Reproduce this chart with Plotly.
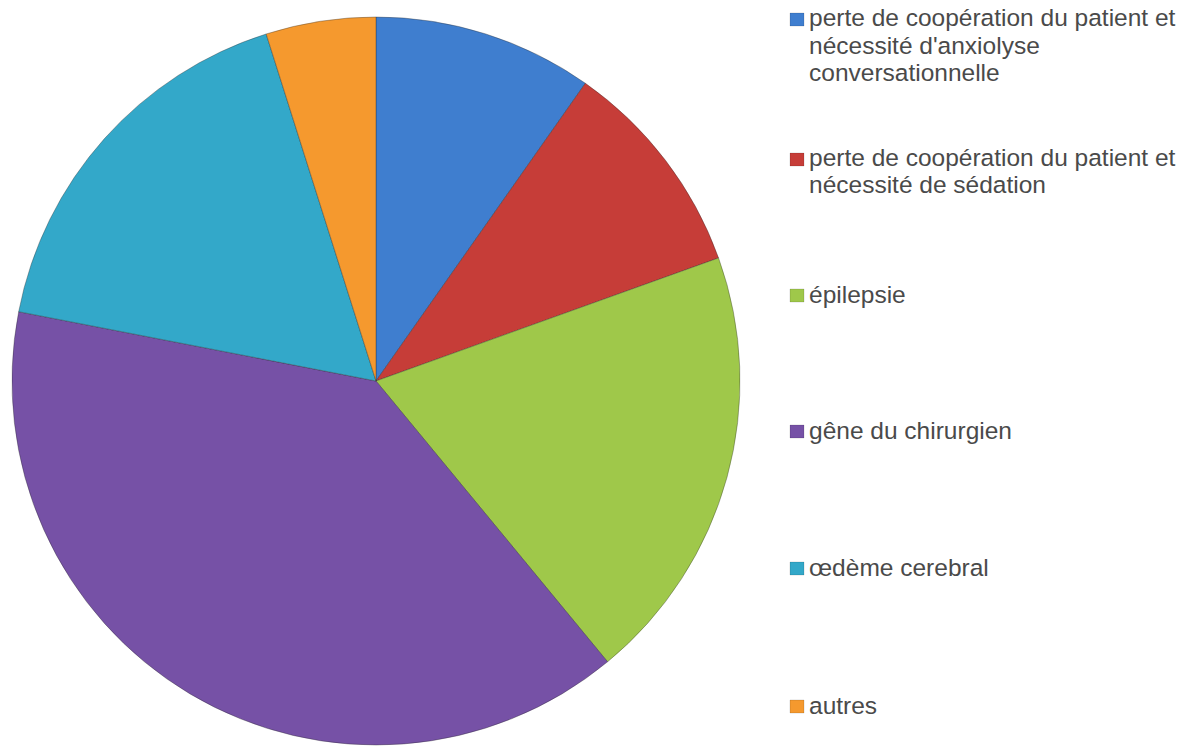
import plotly.graph_objects as go

# Causes and their counts
labels = [
    "perte de coopération du patient et<br>nécessité d'anxiolyse<br>conversationnelle",
    "perte de coopération du patient et<br>nécessité de sédation",
    "épilepsie",
    "gêne du chirurgien",
    "œdème cerebral",
    "autres",
]
counts = [4, 4, 8, 16, 7, 2]
colors = ["#3f7ecf", "#c63d38", "#9fc84a", "#7651a6", "#33a8c9", "#f5992e"]

W, H = 1191, 749


def px_x(x):
    return x / W


def px_y(y):
    return 1 - y / H


# Pie geometry (pixels)
cx, cy, r = 376, 381, 364

fig = go.Figure(
    go.Pie(
        labels=[l.replace("<br>", " ") for l in labels],
        values=counts,
        sort=False,
        direction="clockwise",
        rotation=0,
        marker=dict(colors=colors, line=dict(color="rgba(40,40,40,0.35)", width=1)),
        textinfo="none",
        hoverinfo="label+value+percent",
        showlegend=False,
        domain=dict(
            x=[px_x(cx - r), px_x(cx + r)],
            y=[px_y(cy + r), px_y(cy - r)],
        ),
    )
)

# Legend drawn as text lines with coloured squares
legend_x = 790
text_x = 807
line_gap = 27
first_baselines = [26, 166, 302, 438, 575, 713]
font_size = 24.5

annotations = []
shapes = []
for label, color, base in zip(labels, colors, first_baselines):
    lines = label.split("<br>")
    for i, line in enumerate(lines):
        b = base + i * line_gap
        annotations.append(
            dict(
                x=px_x(text_x), y=px_y(b - 8), xref="paper", yref="paper",
                text=line, showarrow=False, xanchor="left", yanchor="middle",
                font=dict(family="Liberation Sans, Arial, sans-serif",
                          size=font_size, color="#4a4a4a"),
            )
        )
    shapes.append(
        dict(
            type="rect", xref="paper", yref="paper",
            x0=px_x(legend_x), x1=px_x(legend_x + 14),
            y0=px_y(base), y1=px_y(base - 13),
            fillcolor=color, line=dict(color="rgba(0,0,0,0.25)", width=0.5),
        )
    )

fig.update_layout(
    width=W, height=H,
    margin=dict(l=0, r=0, t=0, b=0),
    paper_bgcolor="white", plot_bgcolor="white",
    annotations=annotations, shapes=shapes,
)

fig.write_html("out.html")
